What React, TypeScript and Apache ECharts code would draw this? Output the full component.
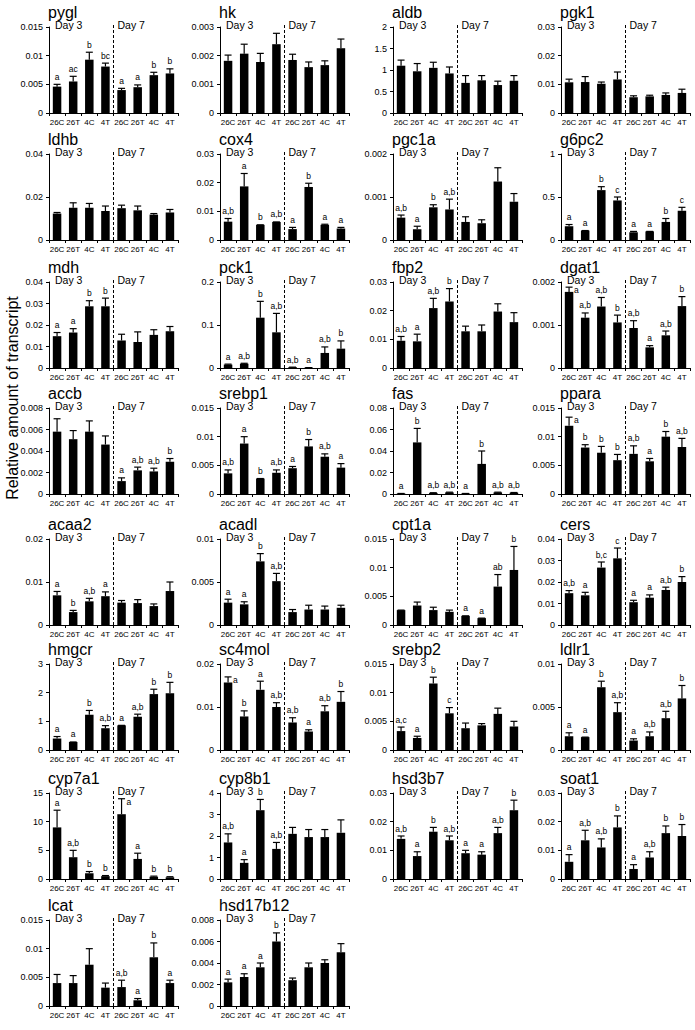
import React, { useEffect, useRef } from "react";
import * as echarts from "echarts";

const categories = ["26C", "26T", "4C", "4T", "26C", "26T", "4C", "4T"];
const dayLabels = ["Day 3", "Day 7"];
const yTitle = "Relative amount of transcript";

const genes = ["pygl", "hk", "aldb", "pgk1", "ldhb", "cox4", "pgc1a", "g6pc2", "mdh", "pck1", "fbp2", "dgat1", "accb", "srebp1", "fas", "ppara", "acaa2", "acadl", "cpt1a", "cers", "hmgcr", "sc4mol", "srebp2", "ldlr1", "cyp7a1", "cyp8b1", "hsd3b7", "soat1", "lcat", "hsd17b12"];

const axisMax = [0.015, 0.003, 2, 0.03, 0.04, 0.03, 0.002, 1, 0.04, 0.2, 0.03, 0.002, 0.008, 0.015, 0.08, 0.015, 0.02, 0.01, 0.015, 0.04, 3, 0.02, 0.015, 0.01, 15, 4, 0.03, 0.03, 0.015, 0.008];
const axisStep = [0.005, 0.001, 0.5, 0.01, 0.02, 0.01, 0.001, 0.5, 0.01, 0.1, 0.01, 0.001, 0.002, 0.005, 0.02, 0.005, 0.01, 0.005, 0.005, 0.01, 1, 0.01, 0.005, 0.005, 5, 1, 0.01, 0.01, 0.005, 0.002];

const means = [
  [0.0046, 0.0055, 0.0093, 0.0081, 0.0040, 0.0045, 0.0066, 0.0069],
  [0.00182, 0.00207, 0.00178, 0.00240, 0.00185, 0.00160, 0.00167, 0.00226],
  [1.10, 0.97, 1.05, 0.92, 0.70, 0.76, 0.65, 0.75],
  [0.0107, 0.0108, 0.0102, 0.0117, 0.0055, 0.0058, 0.0063, 0.0070],
  [0.0123, 0.0150, 0.0150, 0.0135, 0.0148, 0.0138, 0.0118, 0.0128],
  [0.0064, 0.0187, 0.0053, 0.0063, 0.0038, 0.0185, 0.0053, 0.0040],
  [0.00052, 0.00025, 0.00076, 0.00071, 0.00042, 0.00039, 0.00136, 0.00089],
  [0.16, 0.11, 0.58, 0.46, 0.09, 0.10, 0.21, 0.34],
  [0.0148, 0.0165, 0.0287, 0.0287, 0.0128, 0.0121, 0.0154, 0.0171],
  [0.008, 0.010, 0.117, 0.083, 0.002, 0.001, 0.035, 0.045],
  [0.0095, 0.0093, 0.0209, 0.0232, 0.0128, 0.0128, 0.0197, 0.0160],
  [0.00177, 0.00117, 0.00143, 0.00106, 0.00093, 0.00048, 0.00076, 0.00144],
  [0.0058, 0.0051, 0.0058, 0.0046, 0.0012, 0.0022, 0.0021, 0.0030],
  [0.0036, 0.0088, 0.0027, 0.0037, 0.0045, 0.0083, 0.0065, 0.0046],
  [0.0005, 0.048, 0.0010, 0.0015, 0.0005, 0.028, 0.0015, 0.0012],
  [0.0119, 0.0081, 0.0072, 0.0059, 0.0070, 0.0057, 0.0100, 0.0082],
  [0.0069, 0.0030, 0.0055, 0.0067, 0.0052, 0.0051, 0.0044, 0.0079],
  [0.0026, 0.0024, 0.0074, 0.0051, 0.0015, 0.0018, 0.0018, 0.0020],
  [0.0026, 0.0034, 0.0026, 0.0023, 0.0016, 0.0012, 0.0067, 0.0096],
  [0.0148, 0.0138, 0.0267, 0.0310, 0.0106, 0.0127, 0.0163, 0.0200],
  [0.40, 0.28, 1.23, 0.76, 0.86, 1.16, 1.95, 1.98],
  [0.0157, 0.0078, 0.0140, 0.0100, 0.0064, 0.0043, 0.0090, 0.0112],
  [0.0033, 0.0021, 0.0116, 0.0064, 0.0038, 0.0043, 0.0063, 0.0041],
  [0.0016, 0.0015, 0.0073, 0.0044, 0.0011, 0.0016, 0.0037, 0.0060],
  [9.0, 3.8, 1.0, 0.5, 11.3, 3.5, 0.4, 0.3],
  [1.7, 0.75, 3.2, 1.4, 2.1, 1.95, 1.95, 2.15],
  [0.0140, 0.0080, 0.0165, 0.0135, 0.0090, 0.0085, 0.0160, 0.0240],
  [0.0060, 0.0135, 0.0110, 0.0180, 0.0035, 0.0075, 0.0160, 0.0150],
  [0.0040, 0.0040, 0.0072, 0.0032, 0.0033, 0.0010, 0.0085, 0.0040],
  [0.0022, 0.0027, 0.0036, 0.0060, 0.0024, 0.0036, 0.0040, 0.0050],
];

const errTops = [
  [0.0050, 0.0064, 0.0106, 0.0087, 0.0043, 0.0049, 0.0071, 0.0077],
  [0.00202, 0.00240, 0.00208, 0.00278, 0.00205, 0.00178, 0.00182, 0.00258],
  [1.23, 1.15, 1.18, 1.07, 0.87, 0.87, 0.74, 0.87],
  [0.0118, 0.0127, 0.0108, 0.0143, 0.0060, 0.0062, 0.0070, 0.0083],
  [0.0128, 0.0173, 0.0170, 0.0158, 0.0162, 0.0158, 0.0123, 0.0142],
  [0.0075, 0.0232, 0.0053, 0.0063, 0.0044, 0.0198, 0.0055, 0.0044],
  [0.00058, 0.00032, 0.00082, 0.00095, 0.00054, 0.00047, 0.00168, 0.00108],
  [0.18, 0.11, 0.62, 0.50, 0.10, 0.10, 0.25, 0.38],
  [0.0165, 0.0183, 0.0313, 0.0325, 0.0157, 0.0168, 0.0178, 0.0193],
  [0.009, 0.011, 0.155, 0.127, 0.002, 0.001, 0.049, 0.063],
  [0.0110, 0.0118, 0.0243, 0.0277, 0.0146, 0.0150, 0.0224, 0.0193],
  [0.00188, 0.00128, 0.00164, 0.00123, 0.00110, 0.00052, 0.00086, 0.00166],
  [0.0070, 0.0059, 0.0068, 0.0054, 0.0015, 0.0025, 0.0024, 0.0033],
  [0.0042, 0.0100, 0.0027, 0.0042, 0.0048, 0.0095, 0.0070, 0.0053],
  [0.0005, 0.061, 0.0012, 0.0017, 0.0005, 0.040, 0.0017, 0.0014],
  [0.0134, 0.0086, 0.0083, 0.0069, 0.0084, 0.0062, 0.0109, 0.0097],
  [0.0078, 0.0034, 0.0062, 0.0077, 0.0057, 0.0059, 0.0049, 0.0100],
  [0.0030, 0.0027, 0.0083, 0.0060, 0.0018, 0.0023, 0.0022, 0.0023],
  [0.0026, 0.0040, 0.0031, 0.0026, 0.0016, 0.0012, 0.0088, 0.0137],
  [0.0160, 0.0152, 0.0293, 0.0358, 0.0115, 0.0140, 0.0176, 0.0225],
  [0.47, 0.28, 1.38, 0.85, 0.86, 1.25, 2.12, 2.36],
  [0.0170, 0.0091, 0.0160, 0.0110, 0.0075, 0.0047, 0.0103, 0.0136],
  [0.0040, 0.0024, 0.0127, 0.0074, 0.0047, 0.0046, 0.0073, 0.0050],
  [0.0020, 0.0015, 0.0080, 0.0055, 0.0013, 0.0021, 0.0045, 0.0075],
  [12.0, 5.0, 1.3, 0.6, 14.0, 4.5, 0.5, 0.4],
  [2.1, 0.9, 3.7, 1.7, 2.4, 2.3, 2.3, 2.75],
  [0.0150, 0.0095, 0.0180, 0.0150, 0.0100, 0.0095, 0.0180, 0.0275],
  [0.0085, 0.0170, 0.0140, 0.0220, 0.0050, 0.0095, 0.0185, 0.0190],
  [0.0055, 0.0053, 0.0100, 0.0040, 0.0045, 0.0013, 0.0110, 0.0045],
  [0.0025, 0.0030, 0.0040, 0.0068, 0.0026, 0.0040, 0.0043, 0.0058],
];

const letters = [
  ["a", "ac", "b", "bc", "a", "a", "b", "b"],
  ["", "", "", "", "", "", "", ""],
  ["", "", "", "", "", "", "", ""],
  ["", "", "", "", "", "", "", ""],
  ["", "", "", "", "", "", "", ""],
  ["a,b", "a", "b", "a,b", "a", "b", "a", "a"],
  ["a,b", "a", "b", "a,b", "", "", "", ""],
  ["a", "a", "b", "c", "a", "a", "b", "c"],
  ["a", "a", "b", "b", "", "", "", ""],
  ["a", "a,b", "b", "a,b", "a,b", "a", "a,b", "b"],
  ["a,b", "a", "a,b", "b", "", "", "", ""],
  ["a", "a,b", "a,b", "b", "a,b", "a", "a,b", "b"],
  ["", "", "", "", "a", "a,b", "a,b", "b"],
  ["a,b", "a", "b", "a,b", "a", "b", "a,b", "a"],
  ["a", "b", "a,b", "a,b", "a", "b", "a,b", "a,b"],
  ["a", "b", "b", "b", "a,b", "a", "b", "a,b"],
  ["a", "b", "a,b", "a", "", "", "", ""],
  ["a", "a", "b", "a,b", "", "", "", ""],
  ["", "", "", "", "a", "a", "ab", "b"],
  ["a,b", "a", "b,c", "c", "a", "a", "a,b", "b"],
  ["a", "a", "b", "a,b", "a", "a,b", "b", "b"],
  ["a", "b", "a", "a,b", "a,b", "a", "a,b", "b"],
  ["a,c", "a", "b", "c", "", "", "", ""],
  ["a", "a", "b", "a,b", "a", "a,b", "a,b", "b"],
  ["a", "a,b", "b", "b", "a", "a", "b", "b"],
  ["a,b", "a", "b", "a,b", "", "", "", ""],
  ["a,b", "a", "b", "a,b", "a", "a", "a,b", "b"],
  ["a", "a,b", "a,b", "b", "a", "a,b", "b", "b"],
  ["", "", "", "", "a,b", "a", "b", "a"],
  ["a", "a", "a", "b", "", "", "", ""],
];

const COL_X = [49, 220, 393, 561];
const ROW_Y = [27, 154, 282, 408, 539, 664, 793, 920];
const PW = 129;
const PH = 86;
const FONT = "'Liberation Sans', Arial, sans-serif";
const NARROW = "'Liberation Sans Narrow', 'Arial Narrow', 'Liberation Sans', Arial, sans-serif";

export default function App() {
  const ref = useRef<HTMLDivElement>(null);
  useEffect(() => {
    document.body.style.margin = "0";
    const chart = echarts.init(ref.current as HTMLDivElement, null, { renderer: "svg" });
    const grid: any[] = [];
    const xAxis: any[] = [];
    const yAxis: any[] = [];
    const series: any[] = [];
    const title: any[] = [];
    genes.forEach((g, i) => {
      const r = Math.floor(i / 4);
      const c = i % 4;
      grid.push({ left: COL_X[c], top: ROW_Y[r], width: PW, height: PH });
      title.push({
        text: g,
        left: COL_X[c] - 1,
        top: ROW_Y[r] - 23,
        padding: 0,
        textStyle: { fontSize: 16, fontWeight: "normal", color: "#000", fontFamily: FONT },
      });
      xAxis.push({
        type: "category",
        gridIndex: i,
        data: categories,
        axisLine: { lineStyle: { color: "#000", width: 1 } },
        axisTick: { show: true, length: 3, interval: 0, lineStyle: { color: "#000" } },
        axisLabel: { interval: 0, fontSize: 8, color: "#000", margin: 5, fontFamily: NARROW },
      });
      yAxis.push({
        type: "value",
        gridIndex: i,
        min: 0,
        max: axisMax[i],
        interval: axisStep[i],
        splitLine: { show: false },
        axisLine: { show: true, lineStyle: { color: "#000", width: 1 } },
        axisTick: { show: true, length: 3, lineStyle: { color: "#000" } },
        axisLabel: { fontSize: 9, color: "#000", margin: 6, fontFamily: NARROW },
      });
      series.push({
        type: "bar",
        xAxisIndex: i,
        yAxisIndex: i,
        data: means[i],
        barWidth: 8.5,
        itemStyle: { color: "#000" },
        silent: true,
      });
      series.push({
        type: "custom",
        xAxisIndex: i,
        yAxisIndex: i,
        clip: false,
        silent: true,
        data: means[i].map((m, k) => [k, m, errTops[i][k]]),
        encode: { x: 0, y: [1, 2] },
        renderItem: (params: any, api: any) => {
          const k = params.dataIndex;
          const p0 = api.coord([k, means[i][k]]);
          const p1 = api.coord([k, errTops[i][k]]);
          const top = api.coord([k, axisMax[i]]);
          const children: any[] = [
            { type: "line", shape: { x1: p0[0], y1: p0[1], x2: p1[0], y2: p1[1] }, style: { stroke: "#000", lineWidth: 1.2 } },
            { type: "line", shape: { x1: p1[0] - 3.5, y1: p1[1], x2: p1[0] + 3.5, y2: p1[1] }, style: { stroke: "#000", lineWidth: 1.2 } },
          ];
          if (letters[i][k]) {
            const gap = p1[1] - top[1];
            const besideDay = (k === 0 || k === 4) && gap - 12 < 4;
            const nearTop = gap < 6 || besideDay;
            children.push({
              type: "text",
              x: nearTop ? p1[0] + 5 : p1[0],
              y: nearTop ? p1[1] + 3 : p1[1] - 3,
              style: {
                text: letters[i][k],
                fill: "#000",
                fontSize: 8.5,
                fontFamily: FONT,
                align: nearTop ? "left" : "center",
                verticalAlign: nearTop ? "middle" : "bottom",
              },
            });
          }
          return { type: "group", children };
        },
      });
      series.push({
        type: "custom",
        xAxisIndex: i,
        yAxisIndex: i,
        clip: false,
        silent: true,
        data: [[0, 0]],
        renderItem: (_params: any, api: any) => {
          const a = api.coord([3, 0]);
          const b = api.coord([4, 0]);
          const first = api.coord([0, 0]);
          const top = api.coord([0, axisMax[i]]);
          const xm = (a[0] + b[0]) / 2;
          const bw = b[0] - a[0];
          return {
            type: "group",
            children: [
              { type: "line", shape: { x1: xm, y1: top[1] - 2, x2: xm, y2: a[1] }, style: { stroke: "#000", lineWidth: 1, lineDash: [3, 2] } },
              { type: "text", x: first[0] - bw / 2 + 6, y: top[1] - 2.5, style: { text: dayLabels[0], fill: "#000", fontSize: 10.5, fontFamily: FONT, align: "left", verticalAlign: "middle" } },
              { type: "text", x: xm + 4, y: top[1] - 2.5, style: { text: dayLabels[1], fill: "#000", fontSize: 10.5, fontFamily: FONT, align: "left", verticalAlign: "middle" } },
            ],
          };
        },
      });
    });
    chart.setOption({
      animation: false,
      backgroundColor: "#fff",
      title,
      grid,
      xAxis,
      yAxis,
      series,
      graphic: [
        {
          type: "text",
          x: 12,
          y: 398,
          rotation: Math.PI / 2,
          style: { text: yTitle, fill: "#000", fontSize: 16, fontFamily: FONT, align: "center", verticalAlign: "middle" },
        },
      ],
    });
    return () => chart.dispose();
  }, []);
  return <div ref={ref} style={{ width: 695, height: 1030 }} />;
}
